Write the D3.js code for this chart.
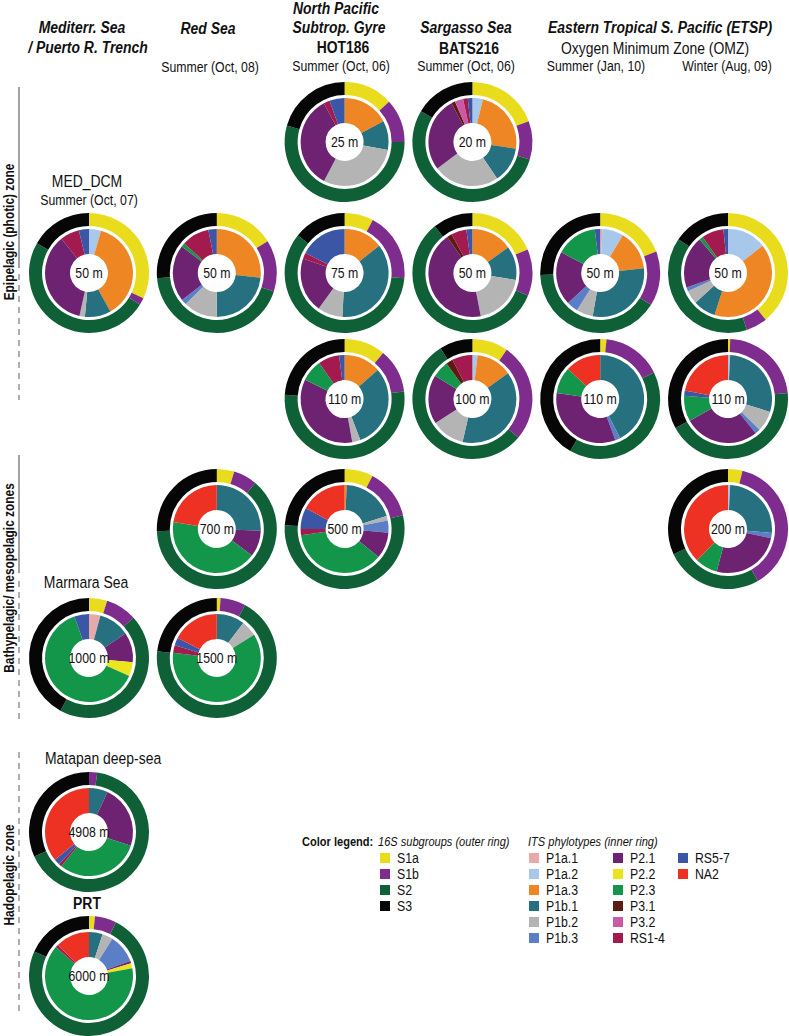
<!DOCTYPE html>
<html>
<head>
<meta charset="utf-8">
<script src="https://cdn.jsdelivr.net/npm/d3@7"></script>
<style>
  body { margin: 0; background: #fff; }
  svg { display: block; }
  text { font-family: "Liberation Sans", Arial, sans-serif; fill: #111; }
</style>
</head>
<body>
<svg id="chart" width="789" height="1036"></svg>
<script>
"use strict";

const outerGroups = ["S1a", "S1b", "S2", "S3"];
const outerColors = ["#e9dc1c", "#7e2c8d", "#0f5f37", "#060606"];
const innerGroups = ["P1a.1", "P1a.2", "P1a.3", "P1b.1", "P1b.2", "P1b.3", "P2.1",
                     "P2.2", "P2.3", "P3.1", "P3.2", "RS1-4", "RS5-7", "NA2"];
const innerColors = ["#e8a9a9", "#a7c8ea", "#ee8623", "#27707f", "#b4b4b4", "#5b7fc6", "#6d2272",
                     "#ebe41e", "#14964a", "#5c1a12", "#cb5aa6", "#a31a4e", "#3a56a5", "#ed3224"];

// one entry per sample
const sampleIds = ["HOT25", "BATS20", "MED50", "RS50", "HOT75", "BATS50", "ETSPs50", "ETSPw50",
                   "HOT110", "BATS100", "ETSPs110", "ETSPw110", "RS700", "HOT500", "ETSPw200",
                   "MAR1000", "RS1500", "MAT4908", "PRT6000"];
const depthLabels = ["25 m", "20 m", "50 m", "50 m", "75 m", "50 m", "50 m", "50 m",
                     "110 m", "100 m", "110 m", "110 m", "700 m", "500 m", "200 m",
                     "1000 m", "1500 m", "4908 m", "6000 m"];

// % of 16S reads: S1a, S1b, S2, S3
const outerValues = [
  [13.3, 11.7, 54.4, 20.6],
  [19.4, 10.3, 53.9, 16.4],
  [31.9, 1.9, 49.4, 16.7],
  [16.1, 13.9, 43.6, 26.4],
  [7.8, 18.6, 59.4, 14.2],
  [18.6, 12.5, 58.1, 10.8],
  [19.2, 14.7, 40.6, 25.5],
  [39.2, 5.7, 39.6, 15.5],
  [11.1, 11.9, 53.1, 23.9],
  [9.7, 26.4, 55.0, 8.9],
  [1.7, 16.0, 40.6, 41.7],
  [0.6, 22.8, 43.6, 33.0],
  [4.7, 6.4, 63.3, 25.6],
  [7.7, 13.6, 54.7, 24.0],
  [3.9, 37.8, 26.4, 31.9],
  [4.9, 8.4, 44.6, 42.1],
  [1.0, 6.8, 69.0, 23.2],
  [0.0, 2.2, 66.1, 31.7],
  [1.6, 5.8, 74.3, 18.3]
];

// % of ITS reads, in innerGroups order
const innerValues = [
  [0, 0, 17.2, 10.7, 29.8, 0, 34.4, 0, 0, 0, 0, 2.2, 5.6, 0],
  [0, 3.9, 23.6, 13.1, 24.2, 0, 27.5, 0, 0, 1.4, 3.1, 1.7, 1.7, 0],
  [0, 4.4, 37.5, 9.6, 2.0, 0, 35.7, 0, 0, 0, 0, 7.1, 3.7, 0],
  [0, 0, 26.7, 23.3, 12.5, 2.0, 20.8, 0, 1.4, 0, 0, 10.2, 3.1, 0],
  [0, 0, 14.4, 36.4, 9.2, 0, 20.3, 0, 0, 0, 0, 2.2, 17.5, 0],
  [0, 0, 15.1, 12.4, 19.4, 0, 43.3, 0, 0, 1.9, 0, 5.6, 2.2, 0],
  [0.8, 7.8, 14.7, 29.4, 6.1, 4.2, 19.7, 0, 15.2, 0, 0, 0, 2.0, 0],
  [0, 14.4, 40.6, 8.3, 5.0, 1.4, 19.2, 0, 1.4, 0, 0, 8.1, 1.7, 0],
  [0, 0, 13.6, 30.6, 3.0, 0, 35.0, 0, 8.0, 0, 0, 7.8, 2.0, 0],
  [0, 1.9, 13.1, 38.6, 12.2, 0, 18.1, 0, 6.1, 2.5, 0, 7.5, 0, 0],
  [0, 0, 0, 42.5, 0, 1.9, 32.8, 0, 9.7, 0, 0, 0, 0, 13.1],
  [0, 0.8, 0, 28.9, 7.5, 1.9, 27.5, 0, 9.4, 0, 0, 0, 1.9, 21.9],
  [0, 0, 0, 25.6, 0, 0, 9.7, 0, 42.2, 0, 0, 0, 0, 22.5],
  [0, 0, 0.8, 19.4, 1.7, 4.4, 9.7, 0, 36.7, 0, 0, 2.2, 7.8, 17.2],
  [0, 0.8, 0, 25.6, 0, 1.9, 25.8, 0, 8.3, 0, 0, 0, 0, 37.5],
  [4.2, 0, 0, 11.4, 0, 0, 11.0, 5.1, 63.0, 0, 0, 0, 5.4, 0],
  [0, 0, 0, 10.3, 5.8, 0, 0, 0, 60.8, 0, 0, 2.8, 2.8, 17.5],
  [0, 0, 0, 6.9, 0, 0, 23.1, 0, 30.8, 0, 0, 1.1, 2.2, 35.8],
  [0, 0, 0, 5.0, 3.9, 10.6, 0.8, 1.9, 64.2, 0, 0, 1.1, 0, 12.5]
];

// grid placement (column, row) of every sample
const columns = ["MED", "RS", "HOT", "BATS", "ETSPs", "ETSPw"];
const rows = ["r25", "r50", "r110", "rMeso", "rBathy", "rMat", "rPrt"];
const sampleCol = ["HOT", "BATS", "MED", "RS", "HOT", "BATS", "ETSPs", "ETSPw",
                   "HOT", "BATS", "ETSPs", "ETSPw", "RS", "HOT", "ETSPw",
                   "MED", "RS", "MED", "MED"];
const sampleRow = ["r25", "r25", "r50", "r50", "r50", "r50", "r50", "r50",
                   "r110", "r110", "r110", "r110", "rMeso", "rMeso", "rMeso",
                   "rBathy", "rBathy", "rMat", "rPrt"];

const NARROW = 0.82;   // condensed look of the original lettering
const R_OUT = 60, R_OUT_IN = 47, R_IN = 44, R_HOLE = 19;

const svg = d3.select("#chart");

const xScale = d3.scalePoint().domain(columns).range([89, 728]);
const yScale = d3.scaleOrdinal().domain(rows).range([142, 273, 399, 529, 658, 832, 976]);

const pie = d3.pie().sort(null).value(d => d.v);
const outerArc = d3.arc().innerRadius(R_OUT_IN).outerRadius(R_OUT);
const innerArc = d3.arc().innerRadius(R_HOLE).outerRadius(R_IN);

// narrow text, anchored at (x, y)
function label(x, y, txt, size, weight, style, anchor) {
    return svg.append("text")
        .attr("transform", `translate(${x},${y}) scale(${NARROW},1)`)
        .attr("text-anchor", anchor || "middle")
        .style("font-size", size + "px")
        .style("font-weight", weight || "normal")
        .style("font-style", style || "normal")
        .text(txt);
}

sampleIds.forEach(function(id, i) {
    let cx = xScale(sampleCol[i]), cy = yScale(sampleRow[i]);
    let g = svg.append("g")
        .attr("class", "donut " + id)
        .attr("transform", `translate(${cx},${cy})`);

    let outer = outerValues[i].map((v, k) => ({v: v, c: outerColors[k]}));
    let inner = innerValues[i].map((v, k) => ({v: v, c: innerColors[k]}));

    g.selectAll("path.outer").data(pie(outer)).join("path")
        .attr("class", "outer")
        .attr("d", outerArc)
        .attr("fill", d => d.data.c);
    g.selectAll("path.inner").data(pie(inner)).join("path")
        .attr("class", "inner")
        .attr("d", innerArc)
        .attr("fill", d => d.data.c);
    label(cx, cy, depthLabels[i], 15).attr("dy", "0.36em");
});

// column headers
label(82, 33, "Mediterr. Sea", 17, "bold", "italic");
label(88, 53, "/ Puerto R. Trench", 17, "bold", "italic");
label(208, 34, "Red Sea", 17, "bold", "italic");
label(210, 72, "Summer (Oct, 08)", 15);
label(336, 14, "North Pacific", 17, "bold", "italic");
label(339, 33, "Subtrop. Gyre", 17, "bold", "italic");
label(343, 53, "HOT186", 17, "bold");
label(341, 71, "Summer (Oct, 06)", 15);
label(466, 33, "Sargasso Sea", 17, "bold", "italic");
label(469, 54, "BATS216", 17, "bold");
label(466, 71, "Summer (Oct, 06)", 15);
label(660, 33, "Eastern Tropical S. Pacific (ETSP)", 17, "bold", "italic");
label(655, 54, "Oxygen Minimum Zone (OMZ)", 17);
label(596, 71, "Summer (Jan, 10)", 15);
label(727, 71, "Winter (Aug, 09)", 15);

// station labels in the left column
label(87, 187, "MED_DCM", 17);
label(89, 205, "Summer (Oct, 07)", 15);
label(86, 588, "Marmara Sea", 17);
label(45, 764, "Matapan deep-sea", 17, "normal", "normal", "start");
label(87, 909, "PRT", 17, "bold");

// depth zones along the left edge
const zones = [
    {name: "Epipelagic (photic) zone", mid: 232, solid: [87, 268], dash: [274, 400]},
    {name: "Bathypelagic/ mesopelagic zones", mid: 578, solid: [455, 573], dash: [581, 723]},
    {name: "Hadopelagic zone", mid: 875, solid: null, dash: [752, 1015]}
];
zones.forEach(function(z) {
    if (z.solid) {
        svg.append("line")
            .attr("x1", 19).attr("x2", 19)
            .attr("y1", z.solid[0]).attr("y2", z.solid[1])
            .attr("stroke", "#666").attr("stroke-width", 1.2);
    }
    svg.append("line")
        .attr("x1", 19).attr("x2", 19)
        .attr("y1", z.dash[0]).attr("y2", z.dash[1])
        .attr("stroke", "#777").attr("stroke-width", 1.2)
        .attr("stroke-dasharray", "6,5");
    svg.append("text")
        .attr("transform", `translate(14,${z.mid}) rotate(-90) scale(${NARROW},1)`)
        .attr("text-anchor", "middle")
        .style("font-size", "14.5px")
        .style("font-weight", "bold")
        .text(z.name);
});

// legend
label(302, 846, "Color legend:", 13.5, "bold", "normal", "start");
label(378, 846, "16S subgroups (outer ring)", 13.5, "normal", "italic", "start");
label(528, 846, "ITS phylotypes (inner ring)", 13.5, "normal", "italic", "start");

const legendRow = d3.scaleLinear().domain([0, 1]).range([858, 874]);

function legendItem(x, idx, name, color) {
    let y = legendRow(idx);
    svg.append("rect")
        .attr("x", x).attr("y", y - 5)
        .attr("width", 10).attr("height", 10)
        .attr("fill", color);
    label(x + 17, y, name, 15, "normal", "normal", "start").attr("dy", "0.36em");
}

outerGroups.forEach((s, k) => legendItem(380, k, s, outerColors[k]));
const legendCols = [529, 613, 678];
innerGroups.forEach(function(s, k) {
    let col = Math.floor(k / 6);
    legendItem(legendCols[col], k % 6, s, innerColors[k]);
});
</script>
</body>
</html>
